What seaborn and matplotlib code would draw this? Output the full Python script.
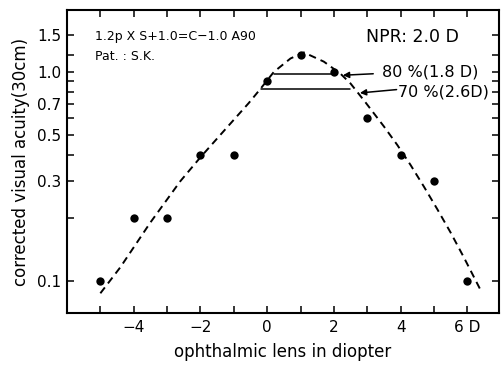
import matplotlib
matplotlib.use("Agg")
import matplotlib.pyplot as plt
import seaborn as sns
import pandas as pd
from matplotlib.ticker import FixedLocator, FixedFormatter, NullLocator

# ---- data ----
lens_d = [-5, -4, -3, -2, -1, 0, 1, 2, 3, 4, 5, 6]
acuity = [0.1, 0.2, 0.2, 0.4, 0.4, 0.9, 1.2, 1.0, 0.6, 0.4, 0.3, 0.1]

curve_x = [-5.0, -4.4, -3.5, -2.6, -2.0, -1.4, -0.55, -0.2, 0.2, 0.7, 1.1,
           1.7, 2.2, 2.5, 2.95, 3.5, 3.9, 4.3, 4.7, 5.1, 5.5, 5.9, 6.4]
curve_y = [0.087, 0.116, 0.19, 0.30, 0.39, 0.50, 0.71, 0.83, 1.0, 1.16, 1.24,
           1.12, 0.98, 0.88, 0.714, 0.548, 0.447, 0.358, 0.282, 0.220, 0.170, 0.129, 0.090]

range80_x = [0.2, 2.0]
range80_y = 0.98
range70_x = [-0.17, 2.48]
range70_y = 0.83

x_ticks = [-5, -4, -3, -2, -1, 0, 1, 2, 3, 4, 5, 6]
x_labels = ["", "\u22124", "", "\u22122", "", "0", "", "2", "", "4", "", "6 D"]
y_ticks = [0.1, 0.2, 0.3, 0.4, 0.5, 0.6, 0.7, 0.8, 0.9, 1.0, 1.2, 1.5]
y_labels = ["0.1", "", "0.3", "", "0.5", "", "0.7", "", "", "1.0", "", "1.5"]

pts = pd.DataFrame({"lens": lens_d, "acuity": acuity})
crv = pd.DataFrame({"lens": curve_x, "acuity": curve_y})

sns.set_style("ticks")
plt.rcParams["font.family"] = ["DejaVu Sans"]
plt.rcParams["text.color"] = "black"
plt.rcParams["axes.labelcolor"] = "black"
plt.rcParams["xtick.color"] = "black"
plt.rcParams["ytick.color"] = "black"

fig = plt.figure(figsize=(5.04, 3.72), dpi=100)
ax = fig.add_axes([67/504, 1-313/372, (499-67)/504, (313-10)/372])

sns.lineplot(data=crv, x="lens", y="acuity", ax=ax, color="black", lw=1.4,
             sort=False, estimator=None)
ax.lines[-1].set_dashes([3.8, 2.6])
sns.scatterplot(data=pts, x="lens", y="acuity", ax=ax, color="black",
                s=36, edgecolor="black", linewidth=0, zorder=5)

ax.plot(range80_x, [range80_y]*2, color="black", lw=1.1)
ax.plot(range70_x, [range70_y]*2, color="black", lw=1.1)

ax.set_yscale("log")
ax.set_xlim(-6, 6.95)
ax.set_ylim(0.07, 1.98)

ax.xaxis.set_major_locator(FixedLocator(x_ticks))
ax.xaxis.set_major_formatter(FixedFormatter(x_labels))
ax.yaxis.set_major_locator(FixedLocator(y_ticks))
ax.yaxis.set_major_formatter(FixedFormatter(y_labels))
ax.yaxis.set_minor_locator(NullLocator())
ax.xaxis.set_minor_locator(NullLocator())

ax.tick_params(direction="in", top=True, right=True, length=5, width=1.1,
               labelsize=11, colors="black")
ax.tick_params(axis="x", pad=5)
ax.tick_params(axis="y", pad=4)
for sp in ax.spines.values():
    sp.set_visible(True)
    sp.set_linewidth(1.5)
    sp.set_color("black")

ax.set_xlabel("ophthalmic lens in diopter", fontsize=12, labelpad=6, color="black")
ax.set_ylabel("corrected visual acuity(30cm)", fontsize=12, labelpad=5, color="black")

ax.text(0.065, 0.911, "1.2p X S+1.0=C\u22121.0 A90", transform=ax.transAxes,
        fontsize=9, ha="left", va="center", color="black")
ax.text(0.065, 0.846, "Pat. : S.K.", transform=ax.transAxes,
        fontsize=9, ha="left", va="center", color="black")
ax.text(0.693, 0.912, "NPR: 2.0 D", transform=ax.transAxes,
        fontsize=12.5, ha="left", va="center", color="black")

ax.annotate("", xy=(2.27, 0.964), xytext=(3.18, 0.98),
            arrowprops=dict(arrowstyle="-|>", color="black", lw=1.1,
                            mutation_scale=9, shrinkA=0, shrinkB=0))
ax.annotate("", xy=(2.78, 0.793), xytext=(3.88, 0.823),
            arrowprops=dict(arrowstyle="-|>", color="black", lw=1.1,
                            mutation_scale=9, shrinkA=0, shrinkB=0))
ax.text(3.43, 1.0, "80 %(1.8 D)", fontsize=11.5, ha="left", va="center", color="black")
ax.text(3.93, 0.802, "70 %(2.6D)", fontsize=11.5, ha="left", va="center", color="black")

fig.savefig("out.png", dpi=100)
